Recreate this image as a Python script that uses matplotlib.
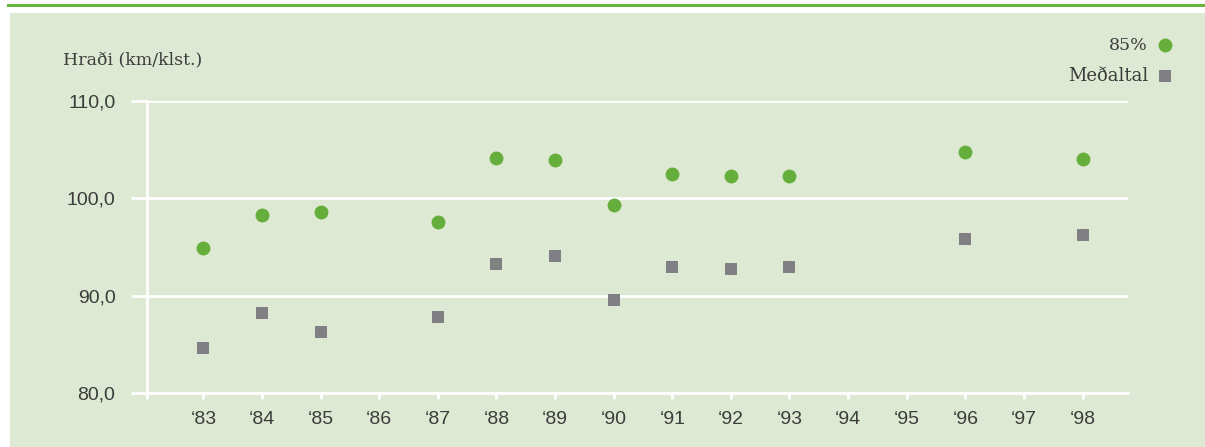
import matplotlib
matplotlib.use("Agg")
import matplotlib.pyplot as plt
from matplotlib.patches import Rectangle
from matplotlib.lines import Line2D

# Ár (flokkar á x-ás)
ar = ["‘83", "‘84", "‘85", "‘86", "‘87", "‘88", "‘89", "‘90",
      "‘91", "‘92", "‘93", "‘94", "‘95", "‘96", "‘97", "‘98"]
# 85% hraði, None þar sem engin mæling
hradi_85 = [94.9, 98.3, 98.6, None, 97.6, 104.2, 103.9, 99.3,
            102.5, 102.3, 102.3, None, None, 104.8, None, 104.0]
# Meðalhraði
medaltal = [84.7, 88.2, 86.3, None, 87.8, 93.3, 94.1, 89.6,
            93.0, 92.8, 93.0, None, None, 95.8, None, 96.2]
y_ticks = [80, 90, 100, 110]
y_labels = ["80,0", "90,0", "100,0", "110,0"]

green = "#66ae3c"
grey = "#7f7f84"
panel = "#dde9d2"
text_col = "#3c3c3c"

W, H = 1205, 447
fig = plt.figure(figsize=(W / 100, H / 100), dpi=100)
fig.patch.set_facecolor("white")

# græni bakgrunnurinn og línan efst
fig.patches.append(Rectangle((10 / W, 0), 1 - 10 / W, 1 - 12.7 / H,
                             transform=fig.transFigure, facecolor=panel,
                             edgecolor="none", zorder=-5))
fig.lines.append(Line2D([8.3 / W, 1], [1 - 4.7 / H, 1 - 4.7 / H],
                        transform=fig.transFigure, color="#6ab23e",
                        linewidth=2.2, zorder=1))

left, right = 146.7 / W, 1127.7 / W
bottom, top = 1 - 393.3 / H, 1 - 101 / H
ax = fig.add_axes([left, bottom, right - left, top - bottom])
ax.set_facecolor("none")
ax.set_zorder(2)

xs = list(range(len(ar)))
x85 = [x for x, v in zip(xs, hradi_85) if v is not None]
y85 = [v for v in hradi_85 if v is not None]
xm = [x for x, v in zip(xs, medaltal) if v is not None]
ym = [v for v in medaltal if v is not None]

ax.plot(x85, y85, "o", color=green, markersize=10, markeredgewidth=0, zorder=3)
ax.plot(xm, ym, "s", color=grey, markersize=8.7, markeredgewidth=0, zorder=3)

ax.set_xlim(-0.966, 15.77)
ax.set_ylim(80, 110)

for s in ["top", "right"]:
    ax.spines[s].set_visible(False)
for s in ["left", "bottom"]:
    ax.spines[s].set_color("white")
    ax.spines[s].set_linewidth(2)

ax.set_yticks(y_ticks)
ax.set_yticklabels(y_labels, fontsize=14, color=text_col, family="Liberation Sans")
ax.tick_params(axis="y", length=11.5, width=2, color="white", pad=11)
ax.yaxis.grid(True, color="white", linewidth=2)
ax.set_axisbelow(True)

ax.set_xticks(xs)
ax.set_xticklabels(ar, fontsize=14, color=text_col, family="Liberation Sans")
ax.set_xticks([-0.966], minor=True)
ax.tick_params(axis="x", which="both", length=4.5, width=2, color="white", pad=8)

fig.text(63 / W, 1 - 60 / H, "Hraði (km/klst.)", fontsize=12.5, color=text_col,
         family="DejaVu Serif", va="center", ha="left")

# skýringar efst til hægri
fig.text(1148 / W, 1 - 45 / H, "85%", fontsize=12.5, color=text_col,
         family="DejaVu Serif", va="center", ha="right")
fig.text(1148 / W, 1 - 76 / H, "Meðaltal", fontsize=13, color=text_col,
         family="DejaVu Serif", va="center", ha="right")
fig.lines.append(Line2D([1165 / W], [1 - 45 / H], transform=fig.transFigure,
                        marker="o", color=green, markersize=10, markeredgewidth=0))
fig.lines.append(Line2D([1165 / W], [1 - 76 / H], transform=fig.transFigure,
                        marker="s", color=grey, markersize=8.7, markeredgewidth=0))

fig.savefig("out.png", dpi=100)
